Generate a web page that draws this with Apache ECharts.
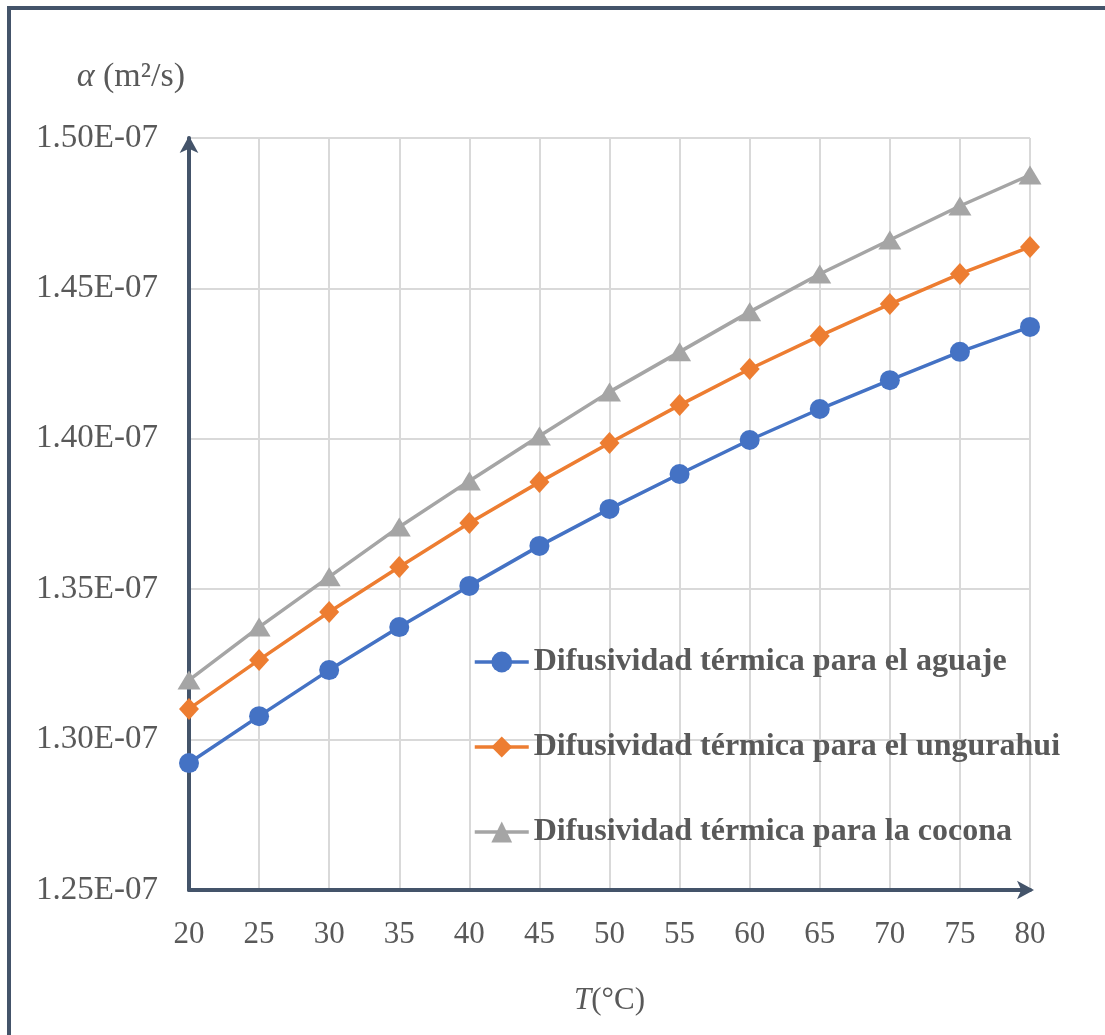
<!DOCTYPE html>
<html>
<head>
<meta charset="utf-8">
<script src="https://cdn.jsdelivr.net/npm/echarts@6/dist/echarts.min.js"></script>
<style>
html,body{margin:0;padding:0;background:#fff;}
#chart{width:1105px;height:1035px;}
</style>
</head>
<body>
<div id="chart"></div>
<script>
// Temperature (°C)
var temperatures = [20, 25, 30, 35, 40, 45, 50, 55, 60, 65, 70, 75, 80];
// Thermal diffusivity, in units of 1E-07 m²/s
var aguaje    = [1.2922, 1.3078, 1.3231, 1.3374, 1.3511, 1.3644, 1.3767, 1.3883, 1.3996, 1.4099, 1.4195, 1.4289, 1.4372];
var ungurahui = [1.3102, 1.3265, 1.3424, 1.3574, 1.3720, 1.3856, 1.3986, 1.4112, 1.4232, 1.4342, 1.4448, 1.4548, 1.4638];
var cocona    = [1.3198, 1.3374, 1.3541, 1.3707, 1.3860, 1.4009, 1.4156, 1.4289, 1.4422, 1.4548, 1.4661, 1.4774, 1.4877];
var seriesNames = [
  'Difusividad térmica para el aguaje',
  'Difusividad térmica para el ungurahui',
  'Difusividad térmica para la cocona'
];

function pairs(vals){ return temperatures.map(function(t,i){ return [t, vals[i]]; }); }

var axisColor = '#44546A';
var textColor = '#595959';
var chart = echarts.init(document.getElementById('chart'));
chart.setOption({
  animation: false,
  graphic: [{
    type: 'rect', silent: true, z: -1,
    shape: { x: 9, y: 8, width: 1200, height: 1200 },
    style: { fill: 'none', stroke: axisColor, lineWidth: 4 }
  }],
  grid: { left: 189, right: 75, top: 138, bottom: 145 },
  legend: {
    orient: 'vertical',
    left: 473, top: 645,
    padding: 0,
    itemWidth: 54, itemHeight: 26,
    itemGap: 51,
    data: seriesNames,
    lineStyle: { width: 3.5 },
    textStyle: { fontFamily: 'Liberation Serif', fontWeight: 'bold', fontSize: 32, color: textColor, lineHeight: 34 }
  },
  xAxis: {
    type: 'value', min: 20, max: 80, interval: 5,
    name: '{i|T}(°C)',
    nameLocation: 'middle', nameGap: 95,
    nameTextStyle: {
      fontFamily: 'Liberation Serif', fontSize: 31, color: textColor,
      rich: { i: { fontFamily: 'Liberation Serif', fontStyle: 'italic', fontSize: 31, color: textColor } }
    },
    axisLine: { show: true, lineStyle: { color: axisColor, width: 4 }, symbol: ['none', 'arrow'], symbolSize: [14, 17], symbolOffset: [0, 4] },
    axisTick: { show: false },
    axisLabel: { margin: 29, fontFamily: 'Liberation Serif', fontSize: 31, color: textColor },
    splitLine: { show: true, lineStyle: { color: '#D9D9D9', width: 2 } }
  },
  yAxis: {
    type: 'value', min: 1.25, max: 1.50, interval: 0.05,
    name: '{i|α} (m²/s)',
    nameLocation: 'end', nameGap: 44,
    nameTextStyle: {
      align: 'right', padding: [0, 4, 0, 0],
      fontFamily: 'Liberation Serif', fontSize: 34, color: textColor,
      rich: { i: { fontFamily: 'Liberation Serif', fontStyle: 'italic', fontSize: 34, color: textColor } }
    },
    axisLine: { show: true, lineStyle: { color: axisColor, width: 4 }, symbol: ['none', 'arrow'], symbolSize: [14, 17], symbolOffset: [0, 2] },
    axisTick: { show: false },
    axisLabel: {
      margin: 31, fontFamily: 'Liberation Serif', fontSize: 33, color: textColor,
      formatter: function(v){ return v.toFixed(2) + 'E-07'; }
    },
    splitLine: { show: true, lineStyle: { color: '#D9D9D9', width: 2 } }
  },
  series: [
    { name: seriesNames[0], type: 'line', data: pairs(aguaje), symbol: 'circle', symbolSize: 20,
      itemStyle: { color: '#4472C4' }, lineStyle: { color: '#4472C4', width: 3.5 }, z: 5 },
    { name: seriesNames[1], type: 'line', data: pairs(ungurahui), symbol: 'diamond', symbolSize: [20, 22],
      itemStyle: { color: '#ED7D31' }, lineStyle: { color: '#ED7D31', width: 3.5 }, z: 4 },
    { name: seriesNames[2], type: 'line', data: pairs(cocona), symbol: 'triangle', symbolSize: [23, 19],
      itemStyle: { color: '#A5A5A5' }, lineStyle: { color: '#A5A5A5', width: 3.5 }, z: 3 }
  ]
});
</script>
</body>
</html>
